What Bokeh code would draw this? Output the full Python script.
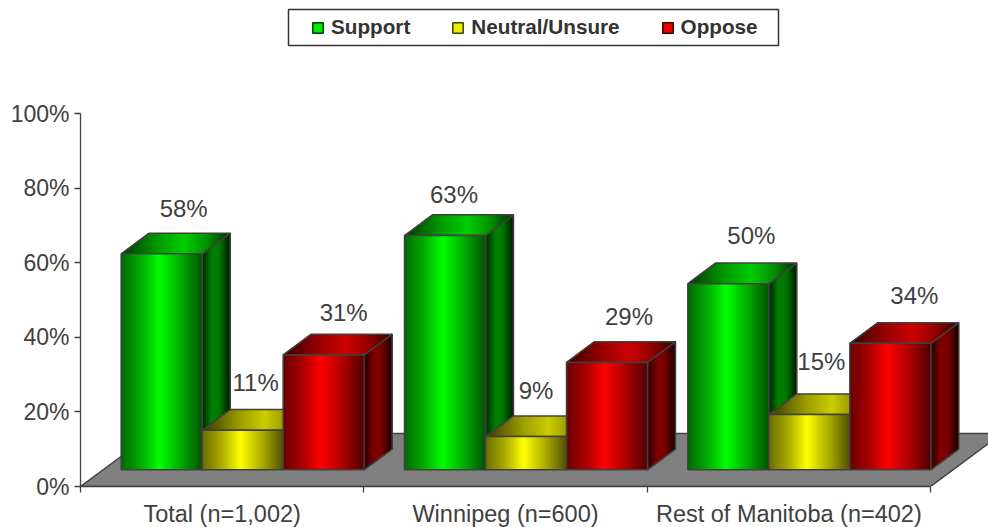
from bokeh.plotting import figure
from bokeh.models import (ColumnDataSource, Range1d, LinearAxis, FixedTicker, Legend, LegendItem)
from bokeh.core.properties import value
from bokeh.embed import file_html
from bokeh.resources import INLINE

categories = ["Total (n=1,002)", "Winnipeg (n=600)", "Rest of Manitoba (n=402)"]
series_names = ["Support", "Neutral/Unsure", "Oppose"]
support = [57.9, 62.8, 49.9]
neutral = [10.6, 8.9, 14.8]
oppose = [30.8, 28.8, 33.9]
support_labels = ["58%", "63%", "50%"]
neutral_labels = ["11%", "9%", "15%"]
oppose_labels = ["31%", "29%", "34%"]
y_ticks = [0, 20, 40, 60, 80, 100]

PX_X = 850 / 3
PX_Y = 3.73
DX = 28 / PX_X
DY = 20.7 / PX_Y
BASE = 16.7 / PX_Y
BAR_W = 81 / PX_X
BAR_START = 0.1435
FLOOR_DX = 71.5 / PX_X
FLOOR_DY = 53 / PX_Y
TEXT = "#404040"
EDGE = "#404040"
FONT = "Liberation Sans"
N = 81
N_SIDE = 28
N_TOP = 109

p = figure(frame_width=908, frame_height=486, output_backend="svg", toolbar_location=None,
           x_range=Range1d(0, 908 / PX_X), y_range=Range1d(0, 486 / PX_Y),
           min_border_left=80, min_border_right=0, min_border_top=0, min_border_bottom=41,
           x_axis_type=None, y_axis_type=None, outline_line_color=None,
           background_fill_color="white", border_fill_color="white")
p.grid.visible = False


def shade(rgb, f):
    return "#%02x%02x%02x" % tuple(int(round(c * f)) for c in rgb)


def ramp(t, stops):
    for (a, fa), (b, fb) in zip(stops, stops[1:]):
        if t <= b:
            return fa + (fb - fa) * (t - a) / (b - a)
    return stops[-1][1]


FRONT = [(0, .42), (.25, .68), (.47, 1), (.75, .66), (1, .32)]
TOP = [(0, .22), (.35, .62), (.58, .80), (.8, .55), (1, .18)]
SIDE = [(0, .15), (.35, .50), (.6, .48), (1, .10)]

# floor
p.patch([0, 3, 3 + FLOOR_DX, FLOOR_DX], [0, 0, FLOOR_DY, FLOOR_DY],
        fill_color="#808080", line_color=EDGE, line_width=1.5)


def top_from(x_cut, x0, xw, yt):
    """The part of a bar's top face that lies right of x_cut."""
    xs, ys = [], []
    if x_cut < x0 + DX:
        xs.append(x_cut)
        ys.append(yt + (x_cut - x0) / DX * DY)
    if x_cut < xw:
        xs += [x_cut, xw]
        ys += [yt, yt]
    else:
        xs.append(x_cut)
        ys.append(yt + (x_cut - xw) / DX * DY)
    xs.append(xw + DX)
    ys.append(yt + DY)
    xs.append(max(x_cut, x0 + DX))
    ys.append(yt + DY)
    return xs, ys


def faces(x0, h, rgb):
    xw = x0 + BAR_W
    yb, yt = BASE, BASE + h
    fr = [(i + .5) / N for i in range(N)]
    st = [i / N for i in range(N)]
    fr_s = [(i + .5) / N_SIDE for i in range(N_SIDE)]
    st_s = [i / N_SIDE for i in range(N_SIDE)]
    # each strip runs on to the far edge of its face, so no seams show
    p.patches(xs=[[xw + a * DX, xw + DX, xw + DX, xw + a * DX] for a in st_s],
              ys=[[yb + a * DY, yb + DY, yt + DY, yt + a * DY] for a in st_s],
              fill_color=[shade(rgb, ramp(c, SIDE)) for c in fr_s], line_color=None)
    p.patch([xw, xw + DX, xw + DX, xw], [yb, yb + DY, yt + DY, yt], fill_color=None, line_color=EDGE, line_width=1.5)
    tops = [top_from(x0 + (i / N_TOP) * (BAR_W + DX), x0, xw, yt) for i in range(N_TOP)]
    p.patches(xs=[t[0] for t in tops], ys=[t[1] for t in tops],
              fill_color=[shade(rgb, ramp((i + .5) / N_TOP, TOP)) for i in range(N_TOP)], line_color=None)
    p.patch([x0, xw, xw + DX, x0 + DX], [yt, yt, yt + DY, yt + DY], fill_color=None, line_color=EDGE, line_width=1.5)
    p.patches(xs=[[x0 + a * BAR_W, xw, xw, x0 + a * BAR_W] for a in st],
              ys=[[yb, yb, yt, yt] for a in st],
              fill_color=[shade(rgb, ramp(c, FRONT)) for c in fr], line_color=None)
    p.patch([x0, xw, xw, x0], [yb, yb, yt, yt], fill_color=None, line_color=EDGE, line_width=1.5)


colors = [(0, 255, 0), (255, 255, 0), (255, 0, 0)]
all_vals = [support, neutral, oppose]
for c in range(3):
    for s in range(3):
        faces(c + BAR_START + s * BAR_W, all_vals[s][c], colors[s])

# data labels, nudged as in the original
nudge_x = [[22, 9, 23], [13, 10, 12], [20, 22, 24]]
nudge_y = [[25, 20.5, 27], [27, 25, 32.5], [21.5, 25, 27]]
lx, ly, lt, ox, oy = [], [], [], [], []
all_labels = [support_labels, neutral_labels, oppose_labels]
for s in range(3):
    for c in range(3):
        lx.append(c + BAR_START + (s + .5) * BAR_W)
        ly.append(BASE + all_vals[s][c] + DY)
        lt.append(all_labels[s][c])
        ox.append(nudge_x[s][c])
        oy.append(-nudge_y[s][c])
p.text(x="x", y="y", text="t", x_offset="ox", y_offset="oy",
       source=ColumnDataSource(dict(x=lx, y=ly, t=lt, ox=ox, oy=oy)),
       text_font=value(FONT), text_font_size="24px", text_color=TEXT,
       text_align="center", text_baseline="middle")

# axes
yax = LinearAxis(ticker=FixedTicker(ticks=y_ticks), major_label_overrides={t: f"{t}%" for t in y_ticks},
                 bounds=(0, 100),
                 axis_line_color=EDGE, axis_line_width=1.3, major_tick_line_color=EDGE, major_tick_line_width=1.3,
                 major_tick_in=0, major_tick_out=6, minor_tick_line_color=None,
                 major_label_text_font=FONT, major_label_text_font_size="23px",
                 major_label_text_color=TEXT, major_label_standoff=5)
p.add_layout(yax, "left")
centers = [i + .5 for i in range(3)]
xax = LinearAxis(ticker=FixedTicker(ticks=centers, minor_ticks=[0, 1, 2, 3]),
                 major_label_overrides=dict(zip(centers, categories)),
                 bounds=(0, 3),
                 axis_line_color=EDGE, axis_line_width=1.3, major_tick_line_color=None,
                 minor_tick_line_color=EDGE, minor_tick_line_width=1.3, minor_tick_in=0, minor_tick_out=6,
                 major_tick_in=0, major_tick_out=0,
                 major_label_text_font=FONT, major_label_text_font_size="23.5px",
                 major_label_text_color=TEXT, major_label_standoff=8)
p.add_layout(xax, "below")

# legend box
p.quad(left=[208 / PX_X], right=[698 / PX_X], bottom=[441 / PX_Y], top=[477 / PX_Y],
       fill_color="white", line_color="#333333", line_width=1.5)

# legend
nan = float("nan")
items = []
for name, rgb in zip(series_names, colors):
    r = p.quad(left=[nan], right=[nan], top=[nan], bottom=[nan], fill_color=shade(rgb, .92),
               line_color=shade(rgb, .25), line_width=1.5)
    items.append(LegendItem(label=name, renderers=[r]))
legend = Legend(items=items, orientation="horizontal", location=(231, 447), margin=0,
                padding=0, spacing=41, label_standoff=7, glyph_width=13, glyph_height=13,
                label_text_font=FONT, label_text_font_size="20.7px", label_text_font_style="bold",
                label_text_color="#333333", border_line_color=None,
                background_fill_alpha=0)
p.add_layout(legend, "center")

open("out.html", "w").write(file_html(p, INLINE))
